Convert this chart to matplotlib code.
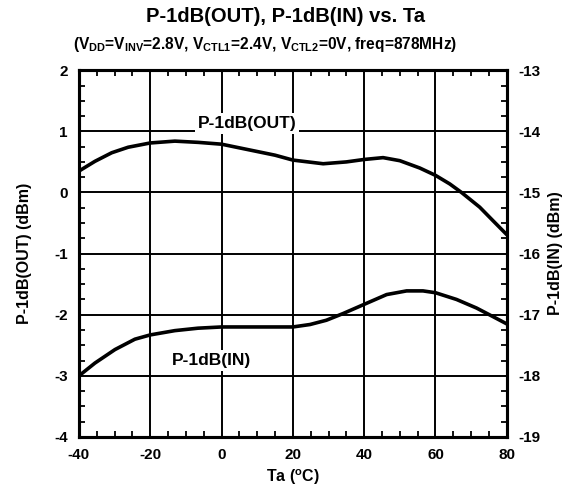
import matplotlib
matplotlib.use("Agg")
import matplotlib.pyplot as plt
from matplotlib.ticker import MultipleLocator

plt.rcParams["font.family"] = ["Liberation Sans", "DejaVu Sans"]
plt.rcParams["font.weight"] = "bold"
plt.rcParams["axes.unicode_minus"] = False
plt.rcParams["mathtext.fontset"] = "custom"
plt.rcParams["mathtext.rm"] = "Liberation Sans:bold"
plt.rcParams["mathtext.it"] = "Liberation Sans:bold"
plt.rcParams["mathtext.bf"] = "Liberation Sans:bold"

# P-1dB(OUT), left axis (dBm)
ta_out = [-40, -35.5, -30.8, -26.2, -20, -13.1, -6.6, 0, 7.5, 15, 20, 28.5, 35,
          40, 45.3, 50, 55.6, 60, 64, 67.3, 72.4, 76.1, 80]
p_out = [0.35, 0.51, 0.65, 0.74, 0.81, 0.84, 0.82, 0.79, 0.70, 0.61, 0.53, 0.47, 0.50,
         0.54, 0.57, 0.52, 0.40, 0.28, 0.14, 0.0, -0.24, -0.46, -0.69]

# P-1dB(IN), right axis (dBm)
ta_in = [-40, -35.5, -29.9, -24.3, -20, -13.1, -6.6, 0, 20, 24.8, 29.4, 34.1, 40,
         46.3, 51.9, 56.5, 60, 65.9, 71.5, 76.1, 80]
p_in = [-18.0, -17.79, -17.57, -17.40, -17.33, -17.26, -17.22, -17.20, -17.20, -17.16,
        -17.09, -16.98, -16.83, -16.67, -16.61, -16.61, -16.64, -16.75, -16.89,
        -17.03, -17.15]

fig = plt.figure(figsize=(5.72, 4.98), dpi=100)
ax = fig.add_axes([0.138, 0.1225, 0.748, 0.7365])
ax2 = ax.twinx()

ax.set_xlim(-40, 80)
ax.set_ylim(-4, 2)
ax2.set_ylim(-19, -13)

ax.grid(True, which="major", color="black", linewidth=1.4)
ax.set_axisbelow(True)

ax.plot(ta_out, p_out, color="black", linewidth=2.6, solid_capstyle="round",
        solid_joinstyle="round")
ax2.plot(ta_in, p_in, color="black", linewidth=2.6, solid_capstyle="round",
         solid_joinstyle="round")

# curve labels with white boxes over the grid
box = dict(facecolor="white", edgecolor="none", pad=2)
ax2.text(7.1, -13.87, "P-1dB(OUT)", ha="center", va="center", fontsize=12.5,
         fontweight="bold", bbox=box, zorder=5)
ax2.text(-2.7, -17.75, "P-1dB(IN)", ha="center", va="center", fontsize=12.5,
         fontweight="bold", bbox=box, zorder=5)

ax.xaxis.set_major_locator(MultipleLocator(20))
ax.xaxis.set_minor_locator(MultipleLocator(5))
ax.yaxis.set_major_locator(MultipleLocator(1))
ax.yaxis.set_minor_locator(MultipleLocator(0.25))
ax2.yaxis.set_major_locator(MultipleLocator(1))
ax2.yaxis.set_minor_locator(MultipleLocator(0.25))

ax.tick_params(which="major", length=0, labelsize=11, pad=8)
ax.tick_params(which="minor", direction="in", length=4, width=1.3, top=True)
ax.tick_params(axis="y", which="minor", right=False)
ax2.tick_params(which="major", length=0, labelsize=11, pad=8)
ax2.tick_params(which="minor", direction="in", length=4, width=1.3)

for a in (ax, ax2):
    for lab in a.get_xticklabels() + a.get_yticklabels():
        lab.set_fontweight("bold")
    for sp in a.spines.values():
        sp.set_linewidth(2.2)

ax.set_xlabel("Ta ($^{o}$C)", fontsize=11.5, fontweight="bold", labelpad=4)
ax.set_ylabel("P-1dB(OUT) (dBm)", fontsize=11.5, fontweight="bold", labelpad=16)
ax2.set_ylabel("P-1dB(IN) (dBm)", fontsize=11.5, fontweight="bold", labelpad=6)

fig.text(0.5, 0.966, "P-1dB(OUT), P-1dB(IN) vs. Ta", ha="center", va="center",
         fontsize=14.5, fontweight="bold")
fig.text(0.463, 0.91,
         "(V$_{DD}$=V$_{INV}$=2.8V, V$_{CTL1}$=2.4V, V$_{CTL2}$=0V, freq=878MHz)",
         ha="center", va="center", fontsize=11.2, fontweight="bold")

fig.savefig("out.png", dpi=100)
